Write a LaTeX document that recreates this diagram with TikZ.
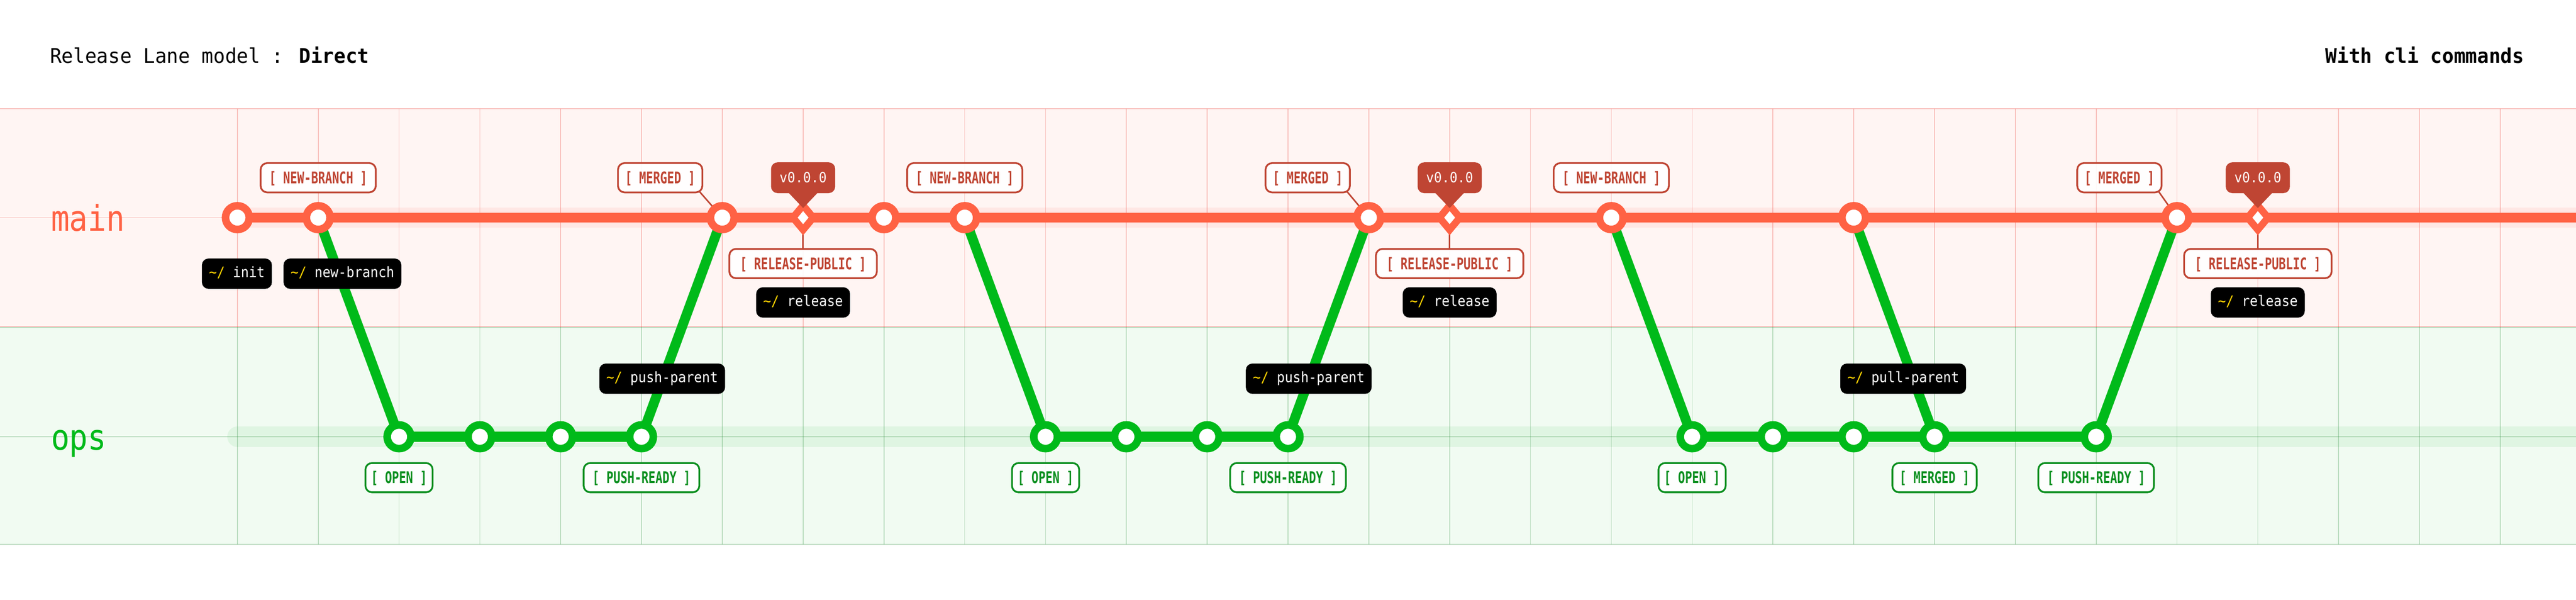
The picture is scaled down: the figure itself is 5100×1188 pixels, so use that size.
\documentclass[tikz,border=0pt]{standalone}
\usepackage{fontspec}
\usetikzlibrary{shapes.geometric,calc}
\newfontfamily\titlefont[FakeStretch=0.96]{DejaVu Sans Mono}
\newfontfamily\lanefont[FakeStretch=0.87]{DejaVu Sans Mono}
\newfontfamily\lblfont[FakeStretch=0.72]{DejaVu Sans Mono}
\newfontfamily\cmdfont[FakeStretch=0.92]{DejaVu Sans Mono}
\definecolor{mainc}{HTML}{FF6244}
\definecolor{lblred}{HTML}{BF4533}
\definecolor{opsc}{HTML}{00BA1A}
\definecolor{opstxt}{HTML}{0B8F1F}
\definecolor{pinkbg}{HTML}{FFF5F3}
\definecolor{pinkhalo}{HTML}{FFE7E4}
\definecolor{greenbg}{HTML}{F1FBF2}
\definecolor{greenhalo}{HTML}{DFF5E2}
\definecolor{gridpc}{HTML}{EB3C32}
\definecolor{gridgc}{HTML}{2E8C3C}
\definecolor{yel}{HTML}{FFD500}
\pgfdeclarelayer{bg}
\pgfdeclarelayer{lines}
\pgfsetlayers{bg,lines,main}
\newcommand{\clicmd}[1]{\textcolor{yel}{\textasciitilde/}~#1}
\tikzset{
  mcommit/.style={circle,draw=mainc,fill=white,line width=3pt,minimum size=9.4pt,inner sep=0pt},
  ocommit/.style={mcommit,draw=opsc},
  relnode/.style={diamond,draw=mainc,fill=white,line width=2.8pt,minimum width=9.2pt,minimum height=10.8pt,inner sep=0pt},
  lblbox/.style={line width=0.7pt,fill=white,fill opacity=0.92,text opacity=1,rounded corners=2.6pt,
    font=\lblfont\bfseries\fontsize{6.4pt}{7pt}\selectfont,minimum height=11.6pt,inner xsep=2pt,inner ysep=0pt,
    text height=4.6pt,text depth=0pt},
  mlabel/.style={lblbox,draw=lblred,text=lblred},
  olabel/.style={lblbox,draw=opstxt,text=opstxt},
  cmdbox/.style={fill=black,rounded corners=2.6pt,text=white,font=\cmdfont\fontsize{5.7pt}{6pt}\selectfont,
    minimum height=12pt,inner xsep=2.8pt,inner ysep=0pt,text height=4.1pt,text depth=1.1pt},
  tagbox/.style={fill=lblred,rounded corners=2.6pt,text=white,font=\cmdfont\fontsize{5.6pt}{6pt}\selectfont,
    minimum width=25.4pt,minimum height=12.2pt,inner sep=0pt,text height=4pt,text depth=0pt},
  lineM/.style={draw=mainc,line width=4pt},
  lineO/.style={draw=opsc,line width=4pt},
  diag/.style={draw=opsc,line width=3.9pt},
  leader/.style={draw=lblred,line width=0.6pt},
  gridP/.style={draw=gridpc,draw opacity=0.28,line width=0.35pt},
  gridG/.style={draw=gridgc,draw opacity=0.28,line width=0.35pt},
  wNB/.style={minimum width=45.6pt},
  wMG/.style={minimum width=33.4pt},
  wRP/.style={minimum width=58.4pt},
  wOP/.style={minimum width=26.6pt},
  wPR/.style={minimum width=45.8pt}
}
\begin{document}
\begin{tikzpicture}[x=0.2pt,y=-0.2pt]
\useasboundingbox (0,0) rectangle (5100,1188);

% ---------- titles ----------
\node[anchor=base west,inner sep=0pt,font=\titlefont\fontsize{8pt}{9.6pt}\selectfont] (title) at (98,125) {Release Lane model : \textbf{Direct}};
\node[anchor=base east,inner sep=0pt,font=\titlefont\bfseries\fontsize{8pt}{9.6pt}\selectfont] (subtitle) at (4998,125) {With cli commands};

% ---------- coordinates ----------
\coordinate (mend) at (5100,431);
\coordinate (ohs) at (470,865);
\coordinate (ohe) at (5100,865);

% ---------- commits ----------
\node[mcommit] (m1) at (470,431) {};
\node[mcommit] (m2) at (630,431) {};
\node[mcommit] (m3) at (1430,431) {};
\node[relnode] (r1) at (1590,431) {};
\node[mcommit] (m4) at (1750,431) {};
\node[mcommit] (m5) at (1910,431) {};
\node[mcommit] (m6) at (2710,431) {};
\node[relnode] (r2) at (2870,431) {};
\node[mcommit] (m7) at (3190,431) {};
\node[mcommit] (m8) at (3670,431) {};
\node[mcommit] (m9) at (4310,431) {};
\node[relnode] (r3) at (4470,431) {};

\node[ocommit] (o1) at (790,865) {};
\node[ocommit] (o2) at (950,865) {};
\node[ocommit] (o3) at (1110,865) {};
\node[ocommit] (o4) at (1270,865) {};
\node[ocommit] (o5) at (2070,865) {};
\node[ocommit] (o6) at (2230,865) {};
\node[ocommit] (o7) at (2390,865) {};
\node[ocommit] (o8) at (2550,865) {};
\node[ocommit] (o9) at (3350,865) {};
\node[ocommit] (o10) at (3510,865) {};
\node[ocommit] (o11) at (3670,865) {};
\node[ocommit] (o12) at (3830,865) {};
\node[ocommit] (o13) at (4150,865) {};

% ---------- lane labels ----------
\node[anchor=base west,inner sep=0pt,font=\lanefont\fontsize{14pt}{16pt}\selectfont,text=mainc] (lmain) at (100,457) {main};
\node[anchor=base west,inner sep=0pt,font=\lanefont\fontsize{14pt}{16pt}\selectfont,text=opsc] (lops) at (100,891) {ops};

% ---------- main labels ----------
\node[mlabel,wNB] (nb1) at (630,352) {[ NEW-BRANCH ]};
\node[mlabel,wMG] (mg1) at (1307,352) {[ MERGED ]};
\node[mlabel,wNB] (nb2) at (1910,352) {[ NEW-BRANCH ]};
\node[mlabel,wMG] (mg2) at (2589,352) {[ MERGED ]};
\node[mlabel,wNB] (nb3) at (3190,352) {[ NEW-BRANCH ]};
\node[mlabel,wMG] (mg3) at (4196,352) {[ MERGED ]};

\node[mlabel,wRP] (rp1) at (1590,522) {[ RELEASE-PUBLIC ]};
\node[mlabel,wRP] (rp2) at (2870,522) {[ RELEASE-PUBLIC ]};
\node[mlabel,wRP] (rp3) at (4470,522) {[ RELEASE-PUBLIC ]};

% ---------- version tags ----------
\node[tagbox] (t1) at (1590,352) {v0.0.0};
\node[tagbox] (t2) at (2870,352) {v0.0.0};
\node[tagbox] (t3) at (4470,352) {v0.0.0};
\foreach \t/\r in {t1/r1,t2/r2,t3/r3}{
  \fill[lblred] ($(\t.south)+(-30,-3)$) -- ($(\t.south)+(30,-3)$) -- ($(\r.center)+(0,-19)$) -- cycle;
}

% ---------- ops labels ----------
\node[olabel,wOP] (op1) at (790,946) {[ OPEN ]};
\node[olabel,wPR] (pr1) at (1270,946) {[ PUSH-READY ]};
\node[olabel,wOP] (op2) at (2070,946) {[ OPEN ]};
\node[olabel,wPR] (pr2) at (2550,946) {[ PUSH-READY ]};
\node[olabel,wOP] (op3) at (3350,946) {[ OPEN ]};
\node[olabel,wMG] (mo3) at (3830,946) {[ MERGED ]};
\node[olabel,wPR] (pr3) at (4150,946) {[ PUSH-READY ]};

% ---------- cli commands ----------
\node[cmdbox] (cinit) at (469,542) {\clicmd{init}};
\node[cmdbox] (cnb) at (678,542) {\clicmd{new-branch}};
\node[cmdbox] (crel1) at (1590,599) {\clicmd{release}};
\node[cmdbox] (crel2) at (2870,599) {\clicmd{release}};
\node[cmdbox] (crel3) at (4470,599) {\clicmd{release}};
\node[cmdbox] (cpp1) at (1311,750) {\clicmd{push-parent}};
\node[cmdbox] (cpp2) at (2591,750) {\clicmd{push-parent}};
\node[cmdbox] (cpl) at (3768,750) {\clicmd{pull-parent}};

% ---------- background ----------
\begin{pgfonlayer}{bg}
  \fill[white] (0,0) rectangle (5100,1188);
  \fill[pinkbg] (0,215) rectangle (5100,648);
  \fill[greenbg] (0,648) rectangle (5100,1078);
  \draw[pinkhalo,line width=8pt] (m1.center) -- (mend);
  \draw[greenhalo,line width=8pt,line cap=round] (ohs) -- (ohe);
  \foreach \x in {470,630,...,4950}{
    \draw[gridP] (\x,215) -- (\x,648);
    \draw[gridG] (\x,648) -- (\x,1078);
  }
  \draw[gridP] (0,215) -- (5100,215);
  \draw[gridP] (0,431) -- (5100,431);
  \draw[gridP] (0,647) -- (5100,647);
  \draw[gridG] (0,649) -- (5100,649);
  \draw[gridG] (0,865) -- (5100,865);
  \draw[gridG] (0,1078) -- (5100,1078);
\end{pgfonlayer}

% ---------- connectors ----------
\begin{pgfonlayer}{lines}
  \draw[lineM] (m1.center) -- (mend);
  \draw[lineO] (o1.center) -- (o4.center);
  \draw[lineO] (o5.center) -- (o8.center);
  \draw[lineO] (o9.center) -- (o13.center);
  \draw[diag] (m2.center) -- (o1.center);
  \draw[diag] (o4.center) -- (m3.center);
  \draw[diag] (m5.center) -- (o5.center);
  \draw[diag] (o8.center) -- (m6.center);
  \draw[diag] (m7.center) -- (o9.center);
  \draw[diag] (m8.center) -- (o12.center);
  \draw[diag] (o13.center) -- (m9.center);
  \draw[leader] ($(mg1.south east)+(-8,-4)$) -- (m3.center);
  \draw[leader] ($(mg2.south east)+(-8,-4)$) -- (m6.center);
  \draw[leader] ($(mg3.south east)+(-8,-4)$) -- (m9.center);
  \draw[leader] (r1.center) -- (rp1.north);
  \draw[leader] (r2.center) -- (rp2.north);
  \draw[leader] (r3.center) -- (rp3.north);
\end{pgfonlayer}
\end{tikzpicture}
\end{document}
